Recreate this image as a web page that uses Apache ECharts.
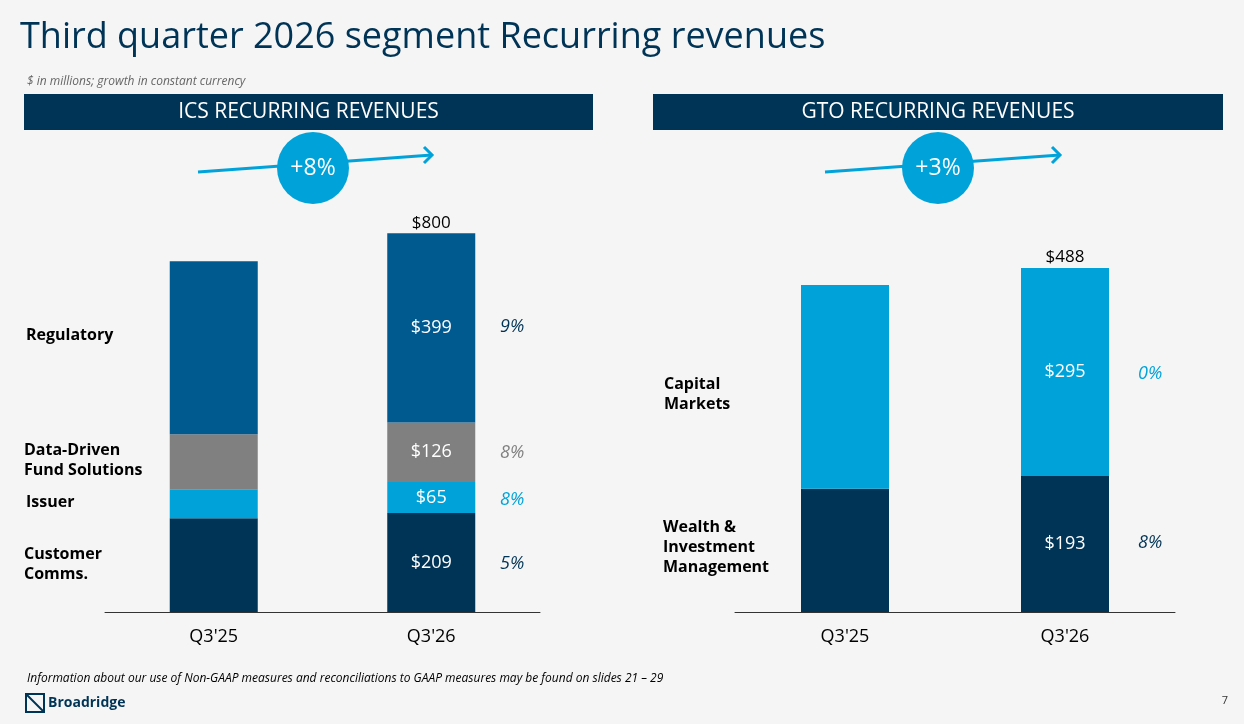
<!DOCTYPE html>
<html><head><meta charset="utf-8">
<script src="https://cdn.jsdelivr.net/npm/echarts@6/dist/echarts.min.js"></script>
<style>html,body{margin:0;padding:0;background:#f5f5f5}#c{width:1244px;height:724px}</style>
</head><body><div id="c"></div>
<script>
const categories = ["Q3'25", "Q3'26"];
const icsCustomer = [198, 209];
const icsIssuer = [61, 65];
const icsDDFS = [116, 126];
const icsRegulatory = [365, 399];
const icsTotal = [null, 800];
const icsGrowth = ["5%", "8%", "8%", "9%"];
const gtoWealth = [175, 193];
const gtoCapital = [289, 295];
const gtoTotal = [null, 488];
const gtoGrowth = ["8%", "0%"];

const F = "'Open Sans', 'Noto Sans', sans-serif";
const navy = '#003456', blue = '#00598f', grey = '#808080', cyan = '#00a3d9';
const chart = echarts.init(document.getElementById('c'));

function seg(name, data, color, g, show) {
  return { name, type: 'bar', stack: 's' + g, xAxisIndex: g, yAxisIndex: g, data, barWidth: 88,
    itemStyle: { color },
    label: { show: true, color: '#fff', fontSize: 18, fontFamily: F,
      formatter: p => (p.dataIndex === 1 ? '$' + p.value : '') } };
}
function tot(data, g) {
  return { type: 'bar', stack: 's' + g, xAxisIndex: g, yAxisIndex: g, data: data.map(v => v == null ? null : 0),
    barWidth: 88, itemStyle: { color: 'transparent' },
    label: { show: true, position: 'top', color: '#000', fontSize: 17, fontFamily: F, distance: 2,
      formatter: p => data[p.dataIndex] == null ? '' : '$' + data[p.dataIndex] } };
}
function t(x, y, text, o) {
  return Object.assign({ type: 'text', x, y, style: Object.assign({ text, fontFamily: F, fontSize: 16, fill: '#000' }, o || {}) });
}
function header(x, w, text) {
  return [{ type: 'rect', shape: { x, y: 94, width: w, height: 36 }, style: { fill: navy } },
    t(x + w / 2, 112, text, { fill: '#fff', fontSize: 21, align: 'center', verticalAlign: 'middle' })];
}
function arrow(x1, y1, x2, y2, cx, label) {
  return [{ type: 'line', shape: { x1, y1, x2, y2 }, style: { stroke: cyan, lineWidth: 3 } },
    { type: 'polyline', shape: { points: [[x2 - 8, y2 - 8], [x2, y2], [x2 - 8, y2 + 8]] }, style: { stroke: cyan, lineWidth: 3, fill: null } },
    { type: 'circle', shape: { cx, cy: 168, r: 36 }, style: { fill: cyan } },
    t(cx, 168, label, { fill: '#fff', fontSize: 23, align: 'center', verticalAlign: 'middle' })];
}
const bold = { fontWeight: 'bold', fontSize: 16, lineHeight: 20 };
chart.setOption({
  backgroundColor: '#f5f5f5',
  animation: false,
  grid: [{ left: 105, width: 435, top: 138, height: 474 }, { left: 735, width: 440, top: 189, height: 423 }],
  xAxis: [0, 1].map(i => ({ type: 'category', gridIndex: i, data: categories,
    axisLine: { lineStyle: { color: '#333', width: 1 } }, axisTick: { show: false },
    axisLabel: { color: '#000', fontSize: 18, fontFamily: F, margin: 16 } })),
  yAxis: [{ gridIndex: 0, min: 0, max: 1000, show: false }, { gridIndex: 1, min: 0, max: 600, show: false }],
  series: [
    seg('Customer Comms.', icsCustomer, navy, 0), seg('Issuer', icsIssuer, cyan, 0),
    seg('DDFS', icsDDFS, grey, 0), seg('Regulatory', icsRegulatory, blue, 0), tot(icsTotal, 0),
    seg('Wealth', gtoWealth, navy, 1), seg('Capital', gtoCapital, cyan, 1), tot(gtoTotal, 1)
  ],
  graphic: [
    t(20, 38, 'Third quarter 2026 segment Recurring revenues', { fill: navy, fontSize: 36, verticalAlign: 'middle' }),
    t(27, 82, '$ in millions; growth in constant currency', { fill: '#666', fontSize: 12, fontStyle: 'italic', verticalAlign: 'middle' }),
    ...header(24, 569, 'ICS RECURRING REVENUES'),
    ...header(653, 570, 'GTO RECURRING REVENUES'),
    ...arrow(198, 172, 432, 155, 313, '+8%'),
    ...arrow(825, 172, 1060, 155, 938, '+3%'),
    t(26, 335, 'Regulatory', Object.assign({ verticalAlign: 'middle' }, bold)),
    t(24, 440, 'Data-Driven\nFund Solutions', bold),
    t(26, 502, 'Issuer', Object.assign({ verticalAlign: 'middle' }, bold)),
    t(24, 544, 'Customer\nComms.', bold),
    t(664, 374, 'Capital\nMarkets', bold),
    t(663, 517, 'Wealth &\nInvestment\nManagement', bold),
    t(500, 327, icsGrowth[3], { fill: navy, fontSize: 18, fontStyle: 'italic', verticalAlign: 'middle' }),
    t(500, 453, icsGrowth[2], { fill: grey, fontSize: 18, fontStyle: 'italic', verticalAlign: 'middle' }),
    t(500, 500, icsGrowth[1], { fill: cyan, fontSize: 18, fontStyle: 'italic', verticalAlign: 'middle' }),
    t(500, 564, icsGrowth[0], { fill: navy, fontSize: 18, fontStyle: 'italic', verticalAlign: 'middle' }),
    t(1138, 374, gtoGrowth[1], { fill: cyan, fontSize: 18, fontStyle: 'italic', verticalAlign: 'middle' }),
    t(1138, 543, gtoGrowth[0], { fill: navy, fontSize: 18, fontStyle: 'italic', verticalAlign: 'middle' }),
    t(27, 679, 'Information about our use of Non-GAAP measures and reconciliations to GAAP measures may be found on slides 21 – 29', { fill: '#000', fontSize: 12, fontStyle: 'italic', verticalAlign: 'middle' }),
    t(1228, 701, '7', { fill: '#333', fontSize: 11, align: 'right', verticalAlign: 'middle' }),
    { type: 'rect', shape: { x: 26, y: 694, width: 18, height: 18 }, style: { fill: null, stroke: navy, lineWidth: 2 } },
    { type: 'line', shape: { x1: 26, y1: 694, x2: 44, y2: 712 }, style: { stroke: navy, lineWidth: 2 } },
    t(48, 703, 'Broadridge', { fill: navy, fontSize: 14, fontWeight: 'bold', verticalAlign: 'middle' })
  ]
});
</script></body></html>
